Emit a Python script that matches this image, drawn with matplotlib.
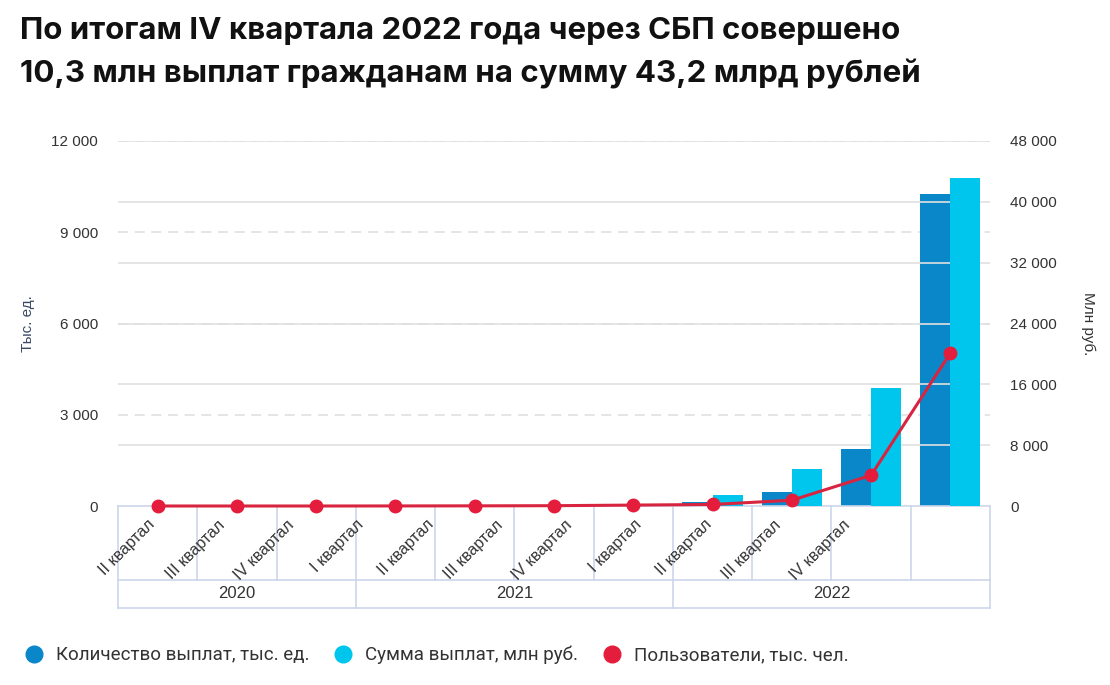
import matplotlib
matplotlib.use("Agg")
import matplotlib.pyplot as plt
import numpy as np
from matplotlib.lines import Line2D

# data
quarters = ['II квартал', 'III квартал', 'IV квартал',
            'I квартал', 'II квартал', 'III квартал', 'IV квартал',
            'I квартал', 'II квартал', 'III квартал', 'IV квартал']
years = ['2020', '2021', '2022']
quarters_per_year = [3, 4, 4]
payout_count = [0, 0, 0, 1, 3, 8, 25, 130, 460, 1870, 10260]        # тыс. ед. (left)
payout_sum = [0, 0, 0, 5, 10, 30, 150, 1450, 4860, 15500, 43150]     # млн руб. (right)
users = [0, 0, 0, 2, 5, 10, 30, 50, 190, 1010, 5030]                 # тыс. чел. (left)

left_ticks = [0, 3000, 6000, 9000, 12000]
right_ticks = [0, 8000, 16000, 24000, 32000, 40000, 48000]

c_dark = '#0a87c9'
c_light = '#00c6ee'
c_red = '#e51d3c'
c_line = '#d8243f'
c_text = '#333333'
c_grid = '#e0e0e0'
c_frame = '#ccd6eb'

plt.rcParams['font.family'] = ['Liberation Sans', 'DejaVu Sans']

fig = plt.figure(figsize=(11.1, 6.85), dpi=100)
ax = fig.add_axes([118 / 1110, 1 - 506 / 685, 872 / 1110, 365 / 685])
ax2 = ax.twinx()

x = np.arange(len(quarters))
w = 0.38
ax2.bar(x + w / 2, payout_sum, w, color=c_light, zorder=2)
ax.bar(x - w / 2, payout_count, w, color=c_dark, zorder=2)

ax.set_xlim(-0.5, len(quarters) - 0.5)
ax.set_ylim(0, 12000)
ax2.set_ylim(0, 48000)

# gridlines: dashed for left scale, solid for right scale
for t in left_ticks[1:]:
    ax.axhline(t, color=c_grid, lw=1.2, ls=(0, (6, 4)), zorder=0)
for t in right_ticks[1:]:
    ax2.axhline(t, color=c_grid, lw=1.2, zorder=0)

# users line drawn above the bars (separate overlay axes on the left scale)
ax3 = fig.add_axes(ax.get_position(), sharex=ax)
ax3.set_ylim(0, 12000)
ax3.patch.set_visible(False)
ax3.axis('off')
ax3.plot(x, users, color=c_line, lw=2.2, marker='o', ms=9,
         mfc=c_red, mec=c_red, zorder=5, clip_on=False)

def fmt(v):
    return '{:,}'.format(v).replace(',', ' ')

ax.set_yticks(left_ticks)
ax.set_yticklabels([fmt(v) for v in left_ticks])
ax2.set_yticks(right_ticks)
ax2.set_yticklabels([fmt(v) for v in right_ticks])
for a in (ax, ax2):
    a.tick_params(axis='y', length=0, labelsize=11, labelcolor=c_text, pad=14.5)
    for s in a.spines.values():
        s.set_visible(False)
ax.set_xticks([])

ax.set_ylabel('Тыс. ед.', fontsize=11, color='#3a4a66', va='center')
ax.yaxis.set_label_coords((28 - 118) / 872, 0.5)
ax2.set_ylabel('Млн руб.', fontsize=11, color=c_text, rotation=270, va='center')
ax2.yaxis.set_label_coords((1088 - 118) / 872, 0.5)

# category table below the axis
tr = ax.get_xaxis_transform()
row1 = -(580 - 506) / 365
row2 = -(608 - 506) / 365
lo, hi = -0.5, len(quarters) - 0.5
ax.plot([lo, hi], [0, 0], color=c_frame, lw=1.2, transform=tr, clip_on=False, zorder=3)
ax.plot([lo, hi], [row1, row1], color=c_frame, lw=1.2, transform=tr, clip_on=False)
ax.plot([lo, hi], [row2, row2], color=c_frame, lw=1.2, transform=tr, clip_on=False)
for b in np.arange(len(quarters) + 1) - 0.5:
    ax.plot([b, b], [0, row1], color=c_frame, lw=1.2, transform=tr, clip_on=False)
edges = np.concatenate([[0], np.cumsum(quarters_per_year)]) - 0.5
for b in edges:
    ax.plot([b, b], [row1, row2], color=c_frame, lw=1.2, transform=tr, clip_on=False)
for i, yr in enumerate(years):
    ax.text((edges[i] + edges[i + 1]) / 2, (row1 + row2) / 2, yr, transform=tr,
            ha='center', va='center', fontsize=12, color=c_text)

# rotated quarter labels (squeezed spacing as in the source)
step = 0.877
for i, q in enumerate(quarters):
    ax.text(-0.06 + i * step, -0.045, q, transform=tr, rotation=45,
            rotation_mode='anchor', ha='right', va='center',
            fontsize=11.5, color=c_text)

# title
title_font = dict(fontsize=22.5, fontweight='bold', family=['Inter', 'DejaVu Sans'],
                  color='#111111', va='center', ha='left')
fig.text(20 / 1110, 1 - 31 / 685, 'По итогам IV квартала 2022 года через СБП совершено', **title_font)
fig.text(20 / 1110, 1 - 74 / 685, '10,3 млн выплат гражданам на сумму 43,2 млрд рублей', **title_font)

# legend
handles = [Line2D([], [], ls='none', marker='o', ms=12, mfc=c, mec=c)
           for c in (c_dark, c_light, c_red)]
labels = ['Количество выплат, тыс. ед.', 'Сумма выплат, млн руб.', 'Пользователи, тыс. чел.']
fig.legend(handles, labels, loc='center left', bbox_to_anchor=(6 / 1110, 1 - 655 / 685),
           ncol=3, frameon=False, handletextpad=0.55, columnspacing=1.22,
           prop={'family': ['Roboto', 'DejaVu Sans'], 'size': 13.5},
           labelcolor=c_text, handlelength=1.2)

fig.savefig('out.png', dpi=100)
